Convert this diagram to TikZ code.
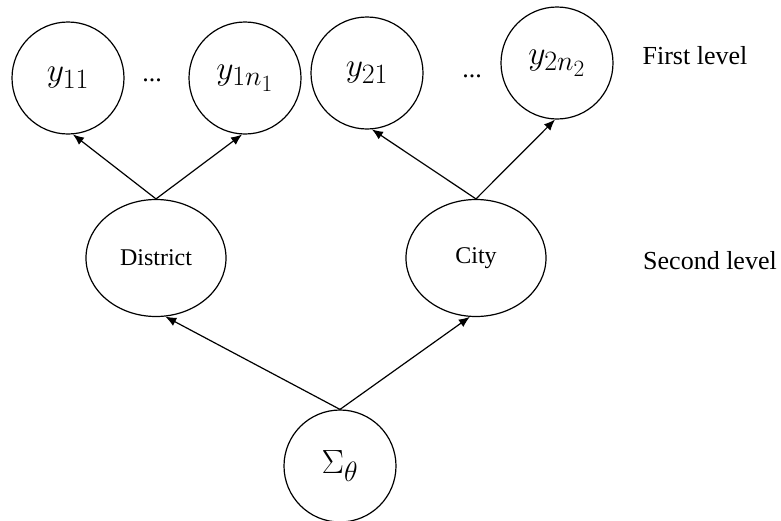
\documentclass[tikz,border=0pt]{standalone}
\usepackage{graphicx}
\usepackage{fontspec}
\setmainfont{Liberation Serif}
\usetikzlibrary{arrows.meta,shapes.geometric}
\newcommand{\largemath}[1]{\scalebox{1.35}{\fontsize{24.88}{30}\selectfont$#1$}}
\tikzset{
  obs/.style={circle,draw,line width=1.2pt,minimum size=112pt,inner sep=0pt,fill=white},
  lat/.style={ellipse,draw,line width=1.2pt,minimum width=140pt,minimum height=117pt,inner sep=0pt,font=\fontsize{24}{29}\selectfont,fill=white},
  lbl/.style={font=\fontsize{26}{31}\selectfont,inner sep=0pt},
  edge/.style={line width=1.2pt,-{Latex[length=11pt,width=9pt]}}
}
\begin{document}
\begin{tikzpicture}[x=1pt,y=-1pt]
\useasboundingbox (0,0) rectangle (781,520);
\node[obs] (y11) at (68,78) {\largemath{y_{11}}};
\node[obs] (y1n) at (245,78) {\largemath{y_{1n_1}}};
\node[obs] (y21) at (367,73) {\largemath{y_{21}}};
\node[obs] (y2n) at (557,63) {\largemath{y_{2n_2}}};
\node[lbl] (d1) at (152,80) {...};
\node[lbl] (d2) at (472,76) {...};
\node[lbl] (l1) at (695,56) {First level};
\node[lat] (D) at (156,258) {District};
\node[lat] (C) at (476,258) {City};
\node[lbl] (l2) at (710,261) {Second level};
\node[obs] (S) at (340,466) {\largemath{\Sigma_\theta}};
\draw[edge] (D.north) -- (y11.-85);
\draw[edge] (D.north) -- (y1n.-93);
\draw[edge] (C.north) -- (y21.-85);
\draw[edge] (C.north) -- (y2n.-92);
\draw[edge] (S.north) -- (D.-81);
\draw[edge] (S.north) -- (C.-96);
\end{tikzpicture}
\end{document}
